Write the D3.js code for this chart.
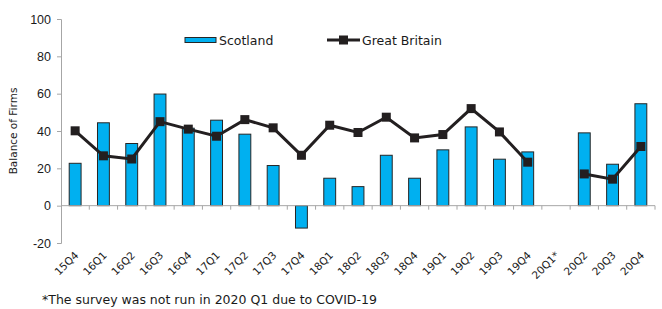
<!DOCTYPE html>
<html>
<head>
<meta charset="utf-8">
<script src="https://cdn.jsdelivr.net/npm/d3@7"></script>
<style>
  body { margin: 0; background: #fff; }
  svg { display: block; font-family: "DejaVu Sans", Verdana, sans-serif; }
  .axis path, .axis line { stroke: #a6a6a6; }
  .axis text { fill: #1a1a1a; }
</style>
</head>
<body>
<div id="graph"></div>
<script>
const categories = ['15Q4', '16Q1', '16Q2', '16Q3', '16Q4', '17Q1', '17Q2', '17Q3', '17Q4',
  '18Q1', '18Q2', '18Q3', '18Q4', '19Q1', '19Q2', '19Q3', '19Q4', '20Q1*', '20Q2', '20Q3', '20Q4'];
const scotland = [22.7, 44.4, 33.3, 59.8, 41.5, 45.8, 38.3, 21.5, -12, 14.7, 10.2, 27, 14.7,
  29.9, 42.2, 24.9, 28.8, null, 39, 22.2, 54.6];
const greatBritain = [40.1, 26.7, 25, 45, 41, 37.2, 46.1, 41.7, 27, 43.1, 39.2, 47.4, 36.3,
  38.1, 52, 39.5, 23.3, null, 17, 14.2, 31.7];
const yTicks = [-20, 0, 20, 40, 60, 80, 100];

var W = 662, H = 309,
    padl = 61, padr = 7, padt = 19, padb = 66;

var svg = d3.select('#graph').append('svg')
    .attr('width', W)
    .attr('height', H);

var x = d3.scaleBand().domain(categories).range([padl, W - padr])
    .paddingInner(0.58).paddingOuter(0.29);
var y = d3.scaleLinear().domain([-20, 100]).range([H - padb, padt]);

var step = x.step();
var cx = (d) => x(d) + x.bandwidth() / 2;

// y axis
var yAxis = svg.append('g')
    .attr('class', 'y axis')
    .attr('transform', 'translate(' + padl + ',0)')
    .call(d3.axisLeft(y).tickValues(yTicks).tickSize(4).tickPadding(6)
      .tickFormat((d) => String(d)));
yAxis.selectAll('text').style('font-size', '12.5px');

svg.append('text')
    .attr('transform', 'translate(17,' + 131 + ') rotate(-90)')
    .attr('text-anchor', 'middle')
    .style('font-size', '10.5px')
    .attr('fill', '#1a1a1a')
    .text('Balance of Firms');

// bars
svg.selectAll('rect.bar')
    .data(categories.map((c, i) => ({ c: c, v: scotland[i] })).filter((d) => d.v != null))
  .enter().append('rect')
    .attr('class', 'bar')
    .attr('x', (d) => x(d.c))
    .attr('width', x.bandwidth())
    .attr('y', (d) => y(Math.max(0, d.v)))
    .attr('height', (d) => Math.abs(y(d.v) - y(0)))
    .attr('fill', '#00b0f0')
    .attr('stroke', '#262626')
    .attr('stroke-width', 1);

// zero line with ticks at category boundaries
var xAxis = svg.append('g')
    .attr('class', 'x axis')
    .attr('transform', 'translate(0,' + y(0) + ')');
xAxis.append('line')
    .attr('x1', padl).attr('x2', W - padr)
    .attr('y1', 0).attr('y2', 0);
xAxis.selectAll('line.tick')
    .data(categories)
  .enter().append('line')
    .attr('class', 'tick')
    .attr('x1', (d) => cx(d) + step / 2)
    .attr('x2', (d) => cx(d) + step / 2)
    .attr('y1', 0).attr('y2', 4);

// category labels
svg.selectAll('text.xlab')
    .data(categories)
  .enter().append('text')
    .attr('class', 'xlab')
    .attr('text-anchor', 'end')
    .attr('transform', (d) => 'translate(' + (cx(d) + 4) + ',' + (y(-20) + 13) + ') rotate(-45)')
    .style('font-size', '10.5px')
    .attr('fill', '#1a1a1a')
    .text((d) => d);

// GB line
var gb = categories.map((c, i) => ({ c: c, v: greatBritain[i] }));
var line = d3.line()
    .defined((d) => d.v != null)
    .x((d) => cx(d.c))
    .y((d) => y(d.v));

svg.append('path')
    .datum(gb)
    .attr('fill', 'none')
    .attr('stroke', '#231f20')
    .attr('stroke-width', 3)
    .attr('d', line);

var ms = 9;
svg.selectAll('rect.marker')
    .data(gb.filter((d) => d.v != null))
  .enter().append('rect')
    .attr('class', 'marker')
    .attr('x', (d) => cx(d.c) - ms / 2)
    .attr('y', (d) => y(d.v) - ms / 2)
    .attr('width', ms)
    .attr('height', ms)
    .attr('fill', '#231f20');

// legend
var legend = svg.append('g');
legend.append('rect')
    .attr('x', 185).attr('y', 37.5).attr('width', 31).attr('height', 5)
    .attr('fill', '#00b0f0').attr('stroke', '#262626').attr('stroke-width', 1);
legend.append('text')
    .attr('x', 219).attr('y', 44.5)
    .style('font-size', '12.5px').attr('fill', '#1a1a1a')
    .text('Scotland');
legend.append('line')
    .attr('x1', 327).attr('x2', 360).attr('y1', 40).attr('y2', 40)
    .attr('stroke', '#231f20').attr('stroke-width', 3);
legend.append('rect')
    .attr('x', 343.5 - ms / 2).attr('y', 40 - ms / 2).attr('width', ms).attr('height', ms)
    .attr('fill', '#231f20');
legend.append('text')
    .attr('x', 362).attr('y', 44.5)
    .style('font-size', '12.5px').attr('fill', '#1a1a1a')
    .text('Great Britain');

// footnote
svg.append('text')
    .attr('x', 42).attr('y', 304)
    .style('font-size', '12.5px')
    .attr('fill', '#1a1a1a')
    .text('*The survey was not run in 2020 Q1 due to COVID-19');
</script>
</body>
</html>
